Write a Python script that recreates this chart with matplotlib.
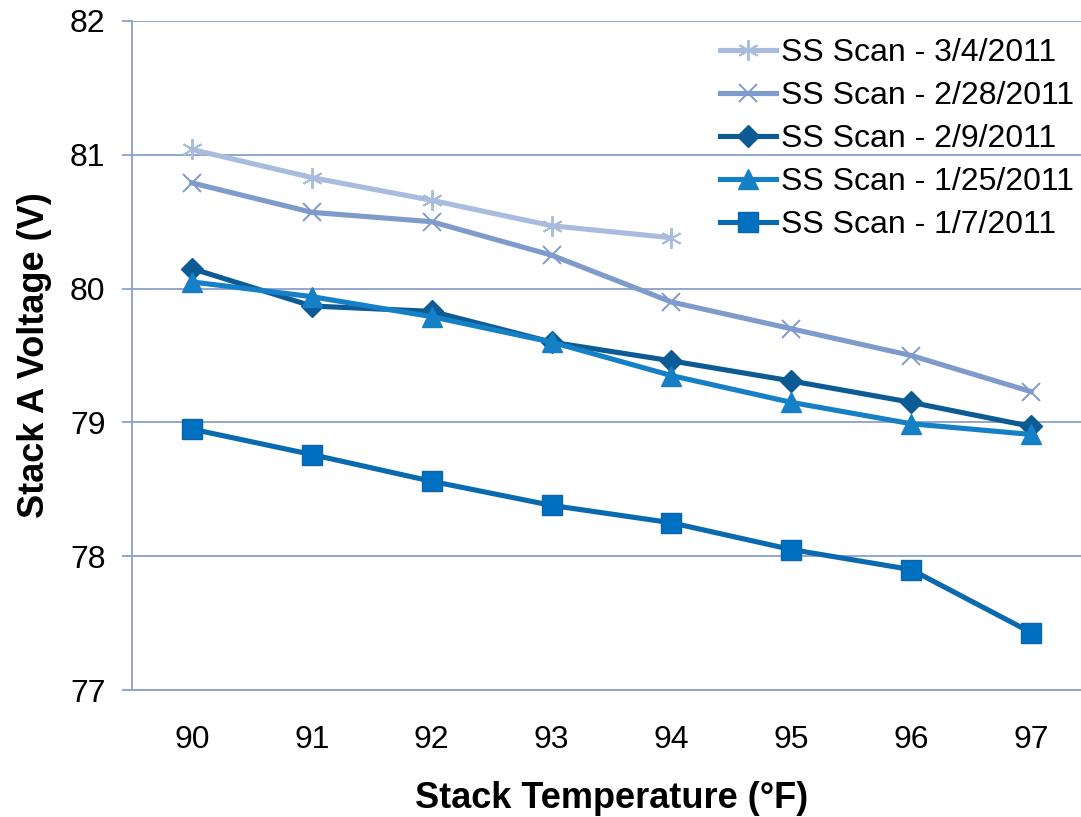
import matplotlib
matplotlib.use('Agg')
from matplotlib import pyplot as plt

plt.rcParams['font.family'] = ['Liberation Sans', 'DejaVu Sans']

temps = ['90', '91', '92', '93', '94', '95', '96', '97']

# Stack A voltage for each steady-state scan
scan_0304 = [81.04, 80.83, 80.66, 80.47, 80.38]
scan_0228 = [80.79, 80.57, 80.50, 80.25, 79.90, 79.70, 79.50, 79.23]
scan_0209 = [80.15, 79.87, 79.83, 79.60, 79.46, 79.31, 79.15, 78.97]
scan_0125 = [80.05, 79.94, 79.79, 79.60, 79.35, 79.15, 78.99, 78.91]
scan_0107 = [78.95, 78.76, 78.56, 78.38, 78.25, 78.05, 77.90, 77.43]

grid_col = '#8C9FCB'

fig = plt.figure(figsize=(10.81, 8.17), dpi=100)
ax = fig.add_axes([0.1221, 0.1554, 0.8872, 0.8189])

x = list(range(len(temps)))
lw = 3.7
ax.plot(x[:len(scan_0304)], scan_0304, color='#A9BCDD', lw=lw, marker=(6, 2, 0),
        ms=15, mew=1.4, label='SS Scan - 3/4/2011')
ax.plot(x, scan_0228, color='#7F9BCB', lw=lw, marker='x', ms=13, mew=1.4,
        label='SS Scan - 2/28/2011')
ax.plot(x, scan_0209, color='#0D5B94', lw=lw, marker='D', ms=11,
        label='SS Scan - 2/9/2011')
ax.plot(x, scan_0125, color='#1580C6', lw=lw, marker='^', ms=14,
        label='SS Scan - 1/25/2011')
ax.plot(x, scan_0107, color='#0A6AB0', lw=lw, marker='s', ms=14,
        mfc='#0070C0', mec='#0A63A8', label='SS Scan - 1/7/2011')

ax.set_xlim(-0.5, 7.5)
ax.set_ylim(77, 82)
ax.set_xticks(x)
ax.set_xticklabels(temps)
ax.set_yticks([77, 78, 79, 80, 81, 82])

ax.grid(axis='y', color=grid_col, lw=1.3)
ax.set_axisbelow(True)
for side in ['top', 'right']:
    ax.spines[side].set_visible(False)
ax.spines['left'].set_color(grid_col)
ax.spines['bottom'].set_color(grid_col)
ax.spines['left'].set_linewidth(1.3)
ax.spines['bottom'].set_linewidth(1.3)
ax.tick_params(axis='y', length=7, color=grid_col, width=1.3, labelsize=23, pad=12)
ax.tick_params(axis='x', length=0, labelsize=23, pad=25)

ax.set_xlabel('Stack Temperature (°F)', fontsize=26, fontweight='bold', labelpad=19)
ax.set_ylabel('Stack A Voltage (V)', fontsize=26, fontweight='bold', labelpad=13)

ax.legend(loc='upper right', bbox_to_anchor=(1.012, 1.018), frameon=False, fontsize=23,
          handlelength=1.75, handletextpad=0.15, labelspacing=0.41)

fig.savefig('out.png', dpi=100)
